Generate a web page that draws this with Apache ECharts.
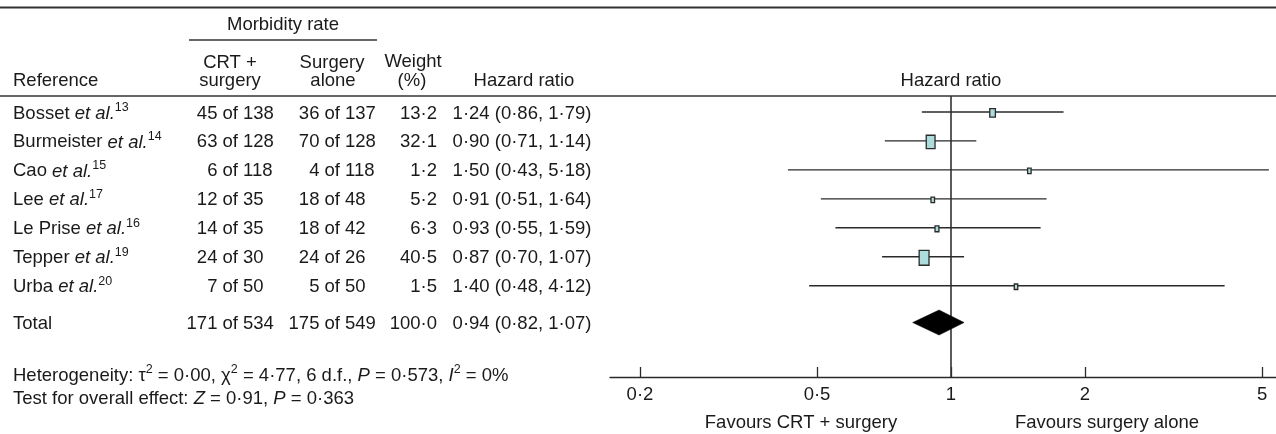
<!DOCTYPE html>
<html><head><meta charset="utf-8">
<script src="https://cdn.jsdelivr.net/npm/echarts@6/dist/echarts.min.js"></script>
<style>html,body{margin:0;padding:0;background:#fff}#c{width:1276px;height:434px}</style>
</head><body><div id="c"></div>
<script>
// ---- data ----
const studies = ['Bosset', 'Burmeister', 'Cao', 'Lee', 'Le Prise', 'Tepper', 'Urba'];
const refs = ['13', '14', '15', '17', '16', '19', '20'];
const crtEvents = [45, 63, 6, 12, 14, 24, 7];
const crtTotal = [138, 128, 118, 35, 35, 30, 50];
const surgEvents = [36, 70, 4, 18, 18, 24, 5];
const surgTotal = [137, 128, 118, 48, 42, 26, 50];
const weights = [13.2, 32.1, 1.2, 5.2, 6.3, 40.5, 1.5];
const hr = [1.24, 0.90, 1.50, 0.91, 0.93, 0.87, 1.40];
const hrLow = [0.86, 0.71, 0.43, 0.51, 0.55, 0.70, 0.48];
const hrHigh = [1.79, 1.14, 5.18, 1.64, 1.59, 1.07, 4.12];
const totalCrt = [171, 534];
const totalSurg = [175, 549];
const totalWeight = 100.0;
const totalHr = [0.94, 0.82, 1.07];
const tickValues = [0.2, 0.5, 1, 2, 5];
const tickLabels = ['0·2', '0·5', '1', '2', '5'];

// ---- styling / layout ----
const FF = '"Liberation Sans", Arial, Helvetica, sans-serif';
const FS = 18.5;
const TXT = '#1a1a1a';
const LINE = '#2a2a2a';
const dot = (v, d) => v.toFixed(d).replace('.', '·');
const lg = Math.log10;
const ROW_MIN = -0.55, ROW_MAX = 9.15;
const totalRow = 7.27;
const XMIN = (610 - 951) / 445, XMAX = (1276 - 951) / 445;
const TEXT_DY = 1.5;

const RICH = {
  n: { fontSize: FS, fontFamily: FF, fill: TXT, lineHeight: 22 },
  i: { fontSize: FS, fontFamily: FF, fill: TXT, fontStyle: 'italic', lineHeight: 22 },
  s: { fontSize: 12.5, fontFamily: FF, fill: TXT, lineHeight: 12, padding: [0, 0, 12, 0] }
};

const tableRows = studies.map((s, i) => ({
  name: '{n|' + s + ' }{i|et al.}{s|' + refs[i] + '}',
  c1: [crtEvents[i], crtTotal[i]],
  c2: [surgEvents[i], surgTotal[i]],
  w: weights[i],
  h: [hr[i], hrLow[i], hrHigh[i]],
  row: i
}));
tableRows.push({ name: '{n|Total}', c1: totalCrt, c2: totalSurg, w: totalWeight, h: totalHr, row: totalRow });

function tableItem(params, api) {
  const r = tableRows[params.dataIndex];
  const row = api.value(1);
  const y = api.coord([0, row])[1] + TEXT_DY;
  const X = v => api.coord([v, row])[0];
  const t = (x, text, align, extra) => ({
    type: 'text',
    style: Object.assign({ x: X(x), y: y, text: text, align: align, verticalAlign: 'middle',
      fill: TXT, fontSize: FS, fontFamily: FF }, extra || {})
  });
  return { type: 'group', children: [
    t(13, r.name, 'left', { rich: RICH }),
    t(238, r.c1[0] + ' of', 'right'),
    t(243, String(r.c1[1]), 'left'),
    t(340, r.c2[0] + ' of', 'right'),
    t(345, String(r.c2[1]), 'left'),
    t(437, dot(r.w, 1), 'right'),
    t(522, dot(r.h[0], 2) + ' (' + dot(r.h[1], 2) + ', ' + dot(r.h[2], 2) + ')', 'center')
  ]};
}

function studyItem(params, api) {
  const row = api.value(3);
  const pL = api.coord([api.value(0), row]);
  const pH = api.coord([api.value(1), row]);
  const pE = api.coord([api.value(2), row]);
  const w = api.value(4);
  const bw = Math.max(3.5, 1.55 * Math.sqrt(w));
  const bh = Math.max(5.5, 2.35 * Math.sqrt(w));
  return { type: 'group', children: [
    { type: 'line', shape: { x1: pL[0], y1: pL[1], x2: pH[0], y2: pH[1] }, style: { stroke: LINE, lineWidth: 1.4 } },
    { type: 'rect', shape: { x: pE[0] - bw / 2, y: pE[1] - bh / 2 + 1, width: bw, height: bh },
      style: { fill: '#acdcdc', stroke: LINE, lineWidth: 1.3 } }
  ]};
}

function diamondItem(params, api) {
  const row = api.value(3);
  const pL = api.coord([api.value(0), row]);
  const pH = api.coord([api.value(1), row]);
  const pE = api.coord([api.value(2), row]);
  const hh = 12.5;
  return { type: 'polygon', shape: { points: [[pL[0], pL[1]], [pE[0], pE[1] - hh], [pH[0], pH[1]], [pE[0], pE[1] + hh]] },
    style: { fill: '#000', stroke: '#000', lineWidth: 0.5 } };
}

const txt = (x, y, text, align, extra) => ({
  type: 'text', silent: true,
  style: Object.assign({ x: x, y: y, text: text, align: align || 'center', verticalAlign: 'middle',
    fill: TXT, fontSize: FS, fontFamily: FF }, extra || {})
});
const hline = (x1, x2, y, w) => ({ type: 'line', silent: true, shape: { x1: x1, y1: y, x2: x2, y2: y }, style: { stroke: '#333', lineWidth: w } });

const FOOT_RICH = {
  s: { fontSize: 12.5, fontFamily: FF, fill: TXT, lineHeight: 12, padding: [0, 0, 12, 0] },
  i: { fontSize: FS, fontFamily: FF, fill: TXT, fontStyle: 'italic', lineHeight: 22 },
  n: { fontSize: FS, fontFamily: FF, fill: TXT, lineHeight: 22 }
};

const option = {
  backgroundColor: '#fff',
  animation: false,
  grid: [
    { left: 0, width: 610, top: 96, bottom: 57 },
    { left: 610, right: 0, top: 96, bottom: 57 }
  ],
  xAxis: [
    { gridIndex: 0, type: 'value', min: 0, max: 610, show: false },
    { gridIndex: 1, type: 'value', min: XMIN, max: XMAX, splitLine: { show: false },
      axisLine: { show: true, onZero: false, lineStyle: { color: LINE, width: 1.4 } },
      axisTick: { show: true, inside: true, length: 10, customValues: tickValues.map(lg), lineStyle: { color: LINE, width: 1.3 } },
      axisLabel: { show: true, margin: 8, customValues: tickValues.map(lg), color: TXT, fontSize: FS, fontFamily: FF,
        formatter: v => { const k = tickValues.findIndex(t => Math.abs(lg(t) - v) < 1e-6); return k >= 0 ? tickLabels[k] : ''; } } }
  ],
  yAxis: [
    { gridIndex: 0, type: 'value', inverse: true, min: ROW_MIN, max: ROW_MAX, show: false },
    { gridIndex: 1, type: 'value', inverse: true, min: ROW_MIN, max: ROW_MAX, show: false }
  ],
  series: [
    { type: 'custom', xAxisIndex: 0, yAxisIndex: 0, renderItem: tableItem, clip: false,
      data: tableRows.map(r => [0, r.row]), encode: { x: 0, y: 1 } },
    { type: 'line', xAxisIndex: 1, yAxisIndex: 1, symbol: 'none', z: 1,
      lineStyle: { color: '#333', width: 1.6 }, data: [[0, ROW_MIN], [0, ROW_MAX]] },
    { type: 'custom', xAxisIndex: 1, yAxisIndex: 1, renderItem: studyItem, z: 3, clip: false,
      data: studies.map((s, i) => [lg(hrLow[i]), lg(hrHigh[i]), lg(hr[i]), i, weights[i]]),
      encode: { x: [0, 1, 2], y: 3 } },
    { type: 'custom', xAxisIndex: 1, yAxisIndex: 1, renderItem: diamondItem, z: 3, clip: false,
      data: [[lg(totalHr[1]), lg(totalHr[2]), lg(totalHr[0]), totalRow]],
      encode: { x: [0, 1, 2], y: 3 } }
  ],
  graphic: [
    hline(0, 1276, 7.5, 1.8),
    hline(0, 1276, 96, 1.6),
    hline(189, 377, 40, 1.4),
    txt(283, 25, 'Morbidity rate'),
    txt(230, 63, 'CRT +'),
    txt(230, 81, 'surgery'),
    txt(332, 63, 'Surgery'),
    txt(333, 81, 'alone'),
    txt(413, 62, 'Weight'),
    txt(412, 81, '(%)'),
    txt(13, 81, 'Reference', 'left'),
    txt(524, 81, 'Hazard ratio'),
    txt(951, 81, 'Hazard ratio'),
    txt(13, 376, 'Heterogeneity: τ{s|2} = 0·00, χ{s|2} = 4·77, 6 d.f., {i|P} = 0·573, {i|I}{s|2} = 0%', 'left', { rich: FOOT_RICH }),
    txt(13, 399, 'Test for overall effect: {i|Z} = 0·91, {i|P} = 0·363', 'left', { rich: FOOT_RICH }),
    txt(801, 423, 'Favours CRT + surgery'),
    txt(1107, 423, 'Favours surgery alone')
  ]
};

const chart = echarts.init(document.getElementById('c'));
chart.setOption(option);
</script>
</body></html>
